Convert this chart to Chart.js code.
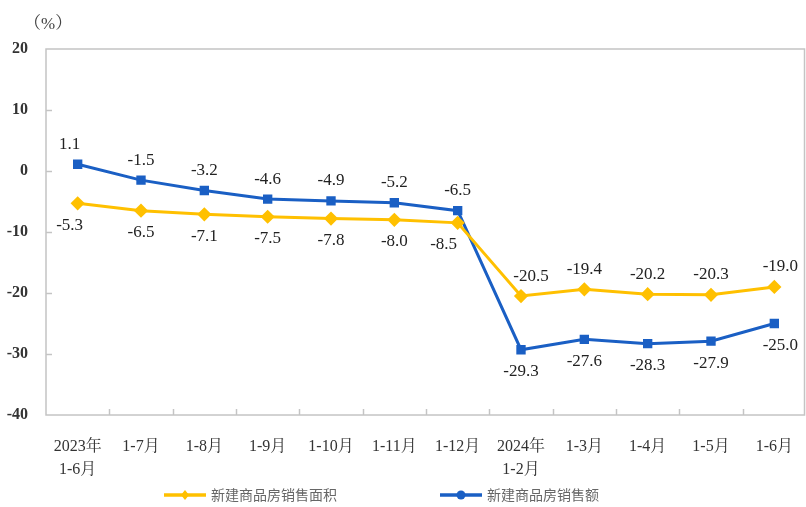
<!DOCTYPE html>
<html>
<head>
<meta charset="utf-8">
<script src="https://cdn.jsdelivr.net/npm/chart.js@4.4.1/dist/chart.umd.min.js"></script>
<style>
html,body{margin:0;padding:0;background:#fff;}
#wrap{width:806px;height:507px;position:relative;}
</style>
</head>
<body>
<div id="wrap"><canvas id="c" width="806" height="507"></canvas></div>
<script>
const categories = [["2023年","1-6月"],"1-7月","1-8月","1-9月","1-10月","1-11月","1-12月",["2024年","1-2月"],"1-3月","1-4月","1-5月","1-6月"];
const areaValues = [-5.3,-6.5,-7.1,-7.5,-7.8,-8.0,-8.5,-20.5,-19.4,-20.2,-20.3,-19.0];
const salesValues = [1.1,-1.5,-3.2,-4.6,-4.9,-5.2,-6.5,-29.3,-27.6,-28.3,-27.9,-25.0];
const yTicks = [20,10,0,-10,-20,-30,-40];
const seriesNames = ["新建商品房销售面积","新建商品房销售额"];
const unitLabel = "（%）";

const YELLOW = "#FFC000";
const BLUE = "#1A5FC4";
const AXIS = "#c4c4c4";
const SERIF = '"Liberation Serif","Times New Roman","Noto Serif CJK SC","Noto Sans CJK SC",serif';

const decor = {
  id: "decor",
  afterDraw(chart) {
    const ctx = chart.ctx;
    const a = chart.chartArea;
    const ys = chart.scales.y;
    ctx.save();
    ctx.strokeStyle = AXIS;
    ctx.lineWidth = 1.5;
    ctx.strokeRect(a.left, a.top, Math.min(a.right, chart.width - 1.5) - a.left, a.bottom - a.top);
    yTicks.forEach(v => {
      if (v === 20 || v === -40) return;
      const y = Math.round(ys.getPixelForValue(v)) + 0.5;
      ctx.beginPath(); ctx.moveTo(a.left, y); ctx.lineTo(a.left + 6, y); ctx.stroke();
    });
    const n = categories.length;
    const step = (a.right - a.left) / n;
    for (let i = 1; i < n; i++) {
      const x = Math.round(a.left + i * step) + 0.5;
      ctx.beginPath(); ctx.moveTo(x, a.bottom); ctx.lineTo(x, a.bottom - 6); ctx.stroke();
    }
    ctx.fillStyle = "#444";
    ctx.font = '17px ' + SERIF;
    ctx.textAlign = "left"; ctx.textBaseline = "middle";
    ctx.fillText(unitLabel, 24, 25);
    ctx.font = '17px ' + SERIF;
    ctx.fillStyle = "#222";
    ctx.textAlign = "center";
    chart.data.datasets.forEach((ds, di) => {
      const meta = chart.getDatasetMeta(di);
      meta.data.forEach((pt, i) => {
        const v = ds.data[i];
        const early = i < 7;
        const above = (di === 1) ? early : !early;
        let dx = 0;
        if (i === 0) dx = -8;
        if (di === 0 && i === 6) dx = -14;
        if (di === 0 && i === 7) dx = 10;
        if (i === 11) dx = 6;
        const y = above ? pt.y - 20 : pt.y + 22;
        ctx.fillText(v.toFixed(1), pt.x + dx, y);
      });
    });
    const ly = 495;
    const items = [
      {x: 164, color: YELLOW, style: "diamond", text: seriesNames[0]},
      {x: 440, color: BLUE, style: "square", text: seriesNames[1]}
    ];
    items.forEach(it => {
      ctx.strokeStyle = it.color; ctx.lineWidth = 3.5;
      ctx.beginPath(); ctx.moveTo(it.x, ly); ctx.lineTo(it.x + 42, ly); ctx.stroke();
      ctx.fillStyle = it.color;
      const cx = it.x + 21;
      if (it.style === "diamond") {
        ctx.beginPath(); ctx.moveTo(cx, ly - 5); ctx.lineTo(cx + 4, ly); ctx.lineTo(cx, ly + 5); ctx.lineTo(cx - 4, ly); ctx.closePath(); ctx.fill();
      } else {
        ctx.beginPath(); ctx.arc(cx, ly, 4.5, 0, Math.PI * 2); ctx.fill();
      }
      ctx.fillStyle = "#666";
      ctx.font = '14px "Noto Sans CJK SC",' + SERIF;
      ctx.textAlign = "left"; ctx.textBaseline = "middle";
      ctx.fillText(it.text, it.x + 47, ly);
    });
    ctx.restore();
  }
};

new Chart(document.getElementById("c"), {
  type: "line",
  data: {
    labels: categories,
    datasets: [
      {label: seriesNames[0], data: areaValues, borderColor: YELLOW, backgroundColor: YELLOW,
       borderWidth: 3, pointStyle: "rectRot", pointRadius: 5, pointHoverRadius: 5, tension: 0},
      {label: seriesNames[1], data: salesValues, borderColor: BLUE, backgroundColor: BLUE,
       borderWidth: 3, pointStyle: "rect", pointRadius: 4.5, pointHoverRadius: 4.5, tension: 0}
    ]
  },
  options: {
    responsive: false,
    animation: false,
    events: [],
    layout: {autoPadding: false, padding: {top: 49, right: -2, left: 0, bottom: 0}},
    plugins: {legend: {display: false}, tooltip: {enabled: false}},
    scales: {
      x: {
        offset: true,
        grid: {display: false},
        border: {display: false},
        ticks: {color: "#333", font: {family: SERIF, size: 16, lineHeight: 1.4}, maxRotation: 0, autoSkip: false, padding: 13},
        afterFit(s) { s.height = 92; s.paddingLeft = 0; s.paddingRight = 0; }
      },
      y: {
        min: -40, max: 20,
        grid: {display: false},
        border: {display: false},
        afterBuildTicks(s) { s.ticks = yTicks.map(v => ({value: v})); },
        ticks: {color: "#333", font: {family: SERIF, size: 16, weight: "bold"}, padding: 10},
        afterFit(s) { s.width = 46; }
      }
    }
  },
  plugins: [decor]
});
</script>
</body>
</html>
